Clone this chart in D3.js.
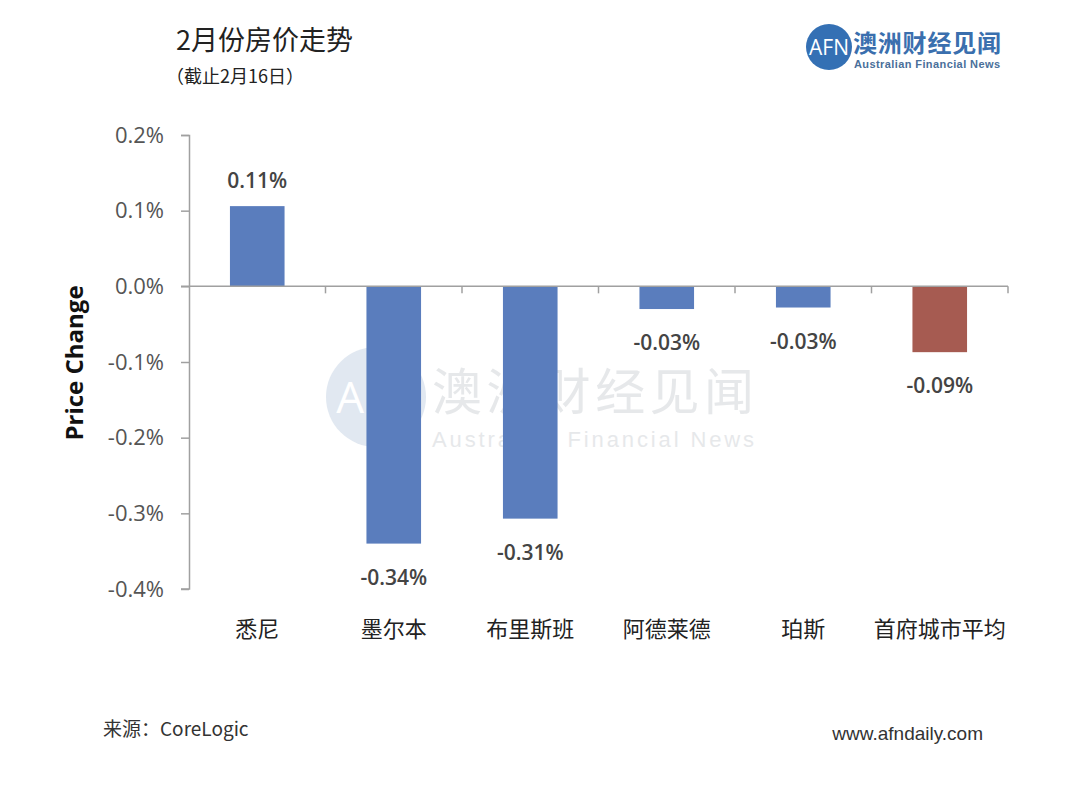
<!DOCTYPE html>
<html>
<head>
<meta charset="utf-8">
<script src="https://cdn.jsdelivr.net/npm/d3@7"></script>
<style>
  html, body { margin: 0; padding: 0; background: #fff; }
  svg { display: block; }
</style>
</head>
<body>
<div id="chart"></div>
<script>
/* ---- Data ---- */
const cities = ['悉尼', '墨尔本', '布里斯班', '阿德莱德', '珀斯', '首府城市平均'];
const priceChange = [0.106, -0.34, -0.307, -0.030, -0.028, -0.087];
const yTicks = [0.2, 0.1, 0.0, -0.1, -0.2, -0.3, -0.4];

const W = 1080, H = 802;
const margin = { top: 135, right: 72, bottom: 213, left: 189 };
const w = W - margin.left - margin.right;
const h = H - margin.top - margin.bottom;

const latin = '"Open Sans", "Liberation Sans", sans-serif';
const cjk = '"Noto Sans CJK SC", "Noto Sans", sans-serif';

const svg = d3.select('#chart').append('svg')
  .attr('width', W)
  .attr('height', H);

/* ---- Watermark ---- */
const wm = svg.append('g').attr('opacity', 0.55);
wm.append('circle')
  .attr('cx', 376).attr('cy', 397).attr('r', 50)
  .attr('fill', '#c9d6e6');
wm.append('text')
  .attr('x', 378).attr('y', 413)
  .attr('text-anchor', 'middle')
  .attr('fill', '#fff')
  .attr('font-family', latin)
  .attr('font-size', '44px')
  .text('AFN');
wm.append('text')
  .attr('x', 432).attr('y', 410)
  .attr('fill', '#d3d6da')
  .attr('font-family', cjk)
  .attr('font-size', '50px')
  .attr('textLength', 322)
  .text('澳洲财经见闻');
wm.append('text')
  .attr('x', 432).attr('y', 447)
  .attr('fill', '#d3d6da')
  .attr('font-family', '"Liberation Sans", sans-serif')
  .attr('font-size', '22px')
  .attr('textLength', 322)
  .text('Australian Financial News');

/* ---- Titles ---- */
svg.append('text')
  .attr('x', 176).attr('y', 50)
  .attr('fill', '#222')
  .attr('font-family', cjk)
  .attr('font-size', '27px')
  .text('2月份房价走势');
svg.append('text')
  .attr('x', 166).attr('y', 83)
  .attr('fill', '#222')
  .attr('font-family', cjk)
  .attr('font-size', '18px')
  .text('（截止2月16日）');

/* ---- Logo ---- */
const logo = svg.append('g');
logo.append('circle')
  .attr('cx', 829).attr('cy', 47).attr('r', 23)
  .attr('fill', '#3470b4');
logo.append('text')
  .attr('x', 829).attr('y', 55)
  .attr('text-anchor', 'middle')
  .attr('fill', '#fff')
  .attr('font-family', latin)
  .attr('font-size', '21px')
  .text('AFN');
logo.append('text')
  .attr('x', 853).attr('y', 52)
  .attr('fill', '#3a6fae')
  .attr('font-family', cjk)
  .attr('font-weight', 700)
  .attr('font-size', '24px')
  .attr('textLength', 148)
  .text('澳洲财经见闻');
logo.append('text')
  .attr('x', 854).attr('y', 68)
  .attr('fill', '#4a6f9a')
  .attr('font-family', '"Liberation Sans", sans-serif')
  .attr('font-weight', 700)
  .attr('font-size', '11px')
  .attr('textLength', 146)
  .text('Australian Financial News');

/* ---- Chart ---- */
const g = svg.append('g')
  .attr('transform', `translate(${margin.left},${margin.top})`);

const x = d3.scaleBand()
  .domain(cities)
  .range([0, w])
  .paddingInner(0.6)
  .paddingOuter(0.3);

const y = d3.scaleLinear()
  .domain([-0.4, 0.2])
  .range([h, 0]);

// Bars
g.selectAll('rect.bar')
  .data(cities)
  .join('rect')
  .attr('class', 'bar')
  .attr('x', d => x(d))
  .attr('y', (d, i) => y(Math.max(0, priceChange[i])))
  .attr('width', x.bandwidth())
  .attr('height', (d, i) => Math.abs(y(priceChange[i]) - y(0)))
  .attr('fill', (d, i) => i === cities.length - 1 ? '#a65b51' : '#5a7dbd');

// Y axis
const yAxis = g.append('g')
  .call(d3.axisLeft(y)
    .tickValues(yTicks)
    .tickSize(8)
    .tickPadding(17)
    .tickFormat(d => d.toFixed(1) + '%'));
yAxis.select('.domain').attr('stroke', '#a0a0a0').attr('stroke-width', 1.5)
  .attr('d', `M-8,0.5H0.5V${h}H-8`);
yAxis.selectAll('.tick line').attr('stroke', '#a0a0a0').attr('stroke-width', 1.5);
yAxis.selectAll('.tick text')
  .attr('fill', '#555')
  .attr('font-family', latin)
  .attr('font-size', '22px');

// Zero line with category ticks
const step = x.step();
g.append('line')
  .attr('x1', -8).attr('x2', w)
  .attr('y1', y(0)).attr('y2', y(0))
  .attr('stroke', '#a0a0a0')
  .attr('stroke-width', 1.5);
g.selectAll('.cat-tick')
  .data(cities)
  .join('line')
  .attr('class', 'cat-tick')
  .attr('x1', d => x(d) + x.bandwidth() / 2 + step / 2)
  .attr('x2', d => x(d) + x.bandwidth() / 2 + step / 2)
  .attr('y1', y(0))
  .attr('y2', y(0) + 7)
  .attr('stroke', '#a0a0a0')
  .attr('stroke-width', 1.5);

// Value labels
g.selectAll('.bar-value')
  .data(cities)
  .join('text')
  .attr('class', 'bar-value')
  .attr('x', d => x(d) + x.bandwidth() / 2)
  .attr('y', (d, i) => priceChange[i] >= 0 ? y(priceChange[i]) - 18 : y(priceChange[i]) + 41)
  .attr('text-anchor', 'middle')
  .attr('fill', '#444')
  .attr('font-family', latin)
  .attr('font-weight', 600)
  .attr('font-size', '21px')
  .text((d, i) => priceChange[i].toFixed(2) + '%');

// Category labels
g.selectAll('.cat-label')
  .data(cities)
  .join('text')
  .attr('class', 'cat-label')
  .attr('x', d => x(d) + x.bandwidth() / 2)
  .attr('y', h + 48)
  .attr('text-anchor', 'middle')
  .attr('fill', '#222')
  .attr('font-family', cjk)
  .attr('font-size', '22px')
  .text(d => d);

// Y axis title
svg.append('text')
  .attr('transform', 'translate(83,363) rotate(-90)')
  .attr('text-anchor', 'middle')
  .attr('fill', '#111')
  .attr('font-family', latin)
  .attr('font-weight', 700)
  .attr('font-size', '24px')
  .text('Price Change');

/* ---- Footer ---- */
svg.append('text')
  .attr('x', 103).attr('y', 736)
  .attr('fill', '#333')
  .attr('font-family', cjk)
  .attr('font-size', '19px')
  .text('来源：CoreLogic');
svg.append('text')
  .attr('x', 983).attr('y', 740)
  .attr('text-anchor', 'end')
  .attr('fill', '#333')
  .attr('font-family', '"Liberation Sans", sans-serif')
  .attr('font-size', '19px')
  .text('www.afndaily.com');
</script>
</body>
</html>
